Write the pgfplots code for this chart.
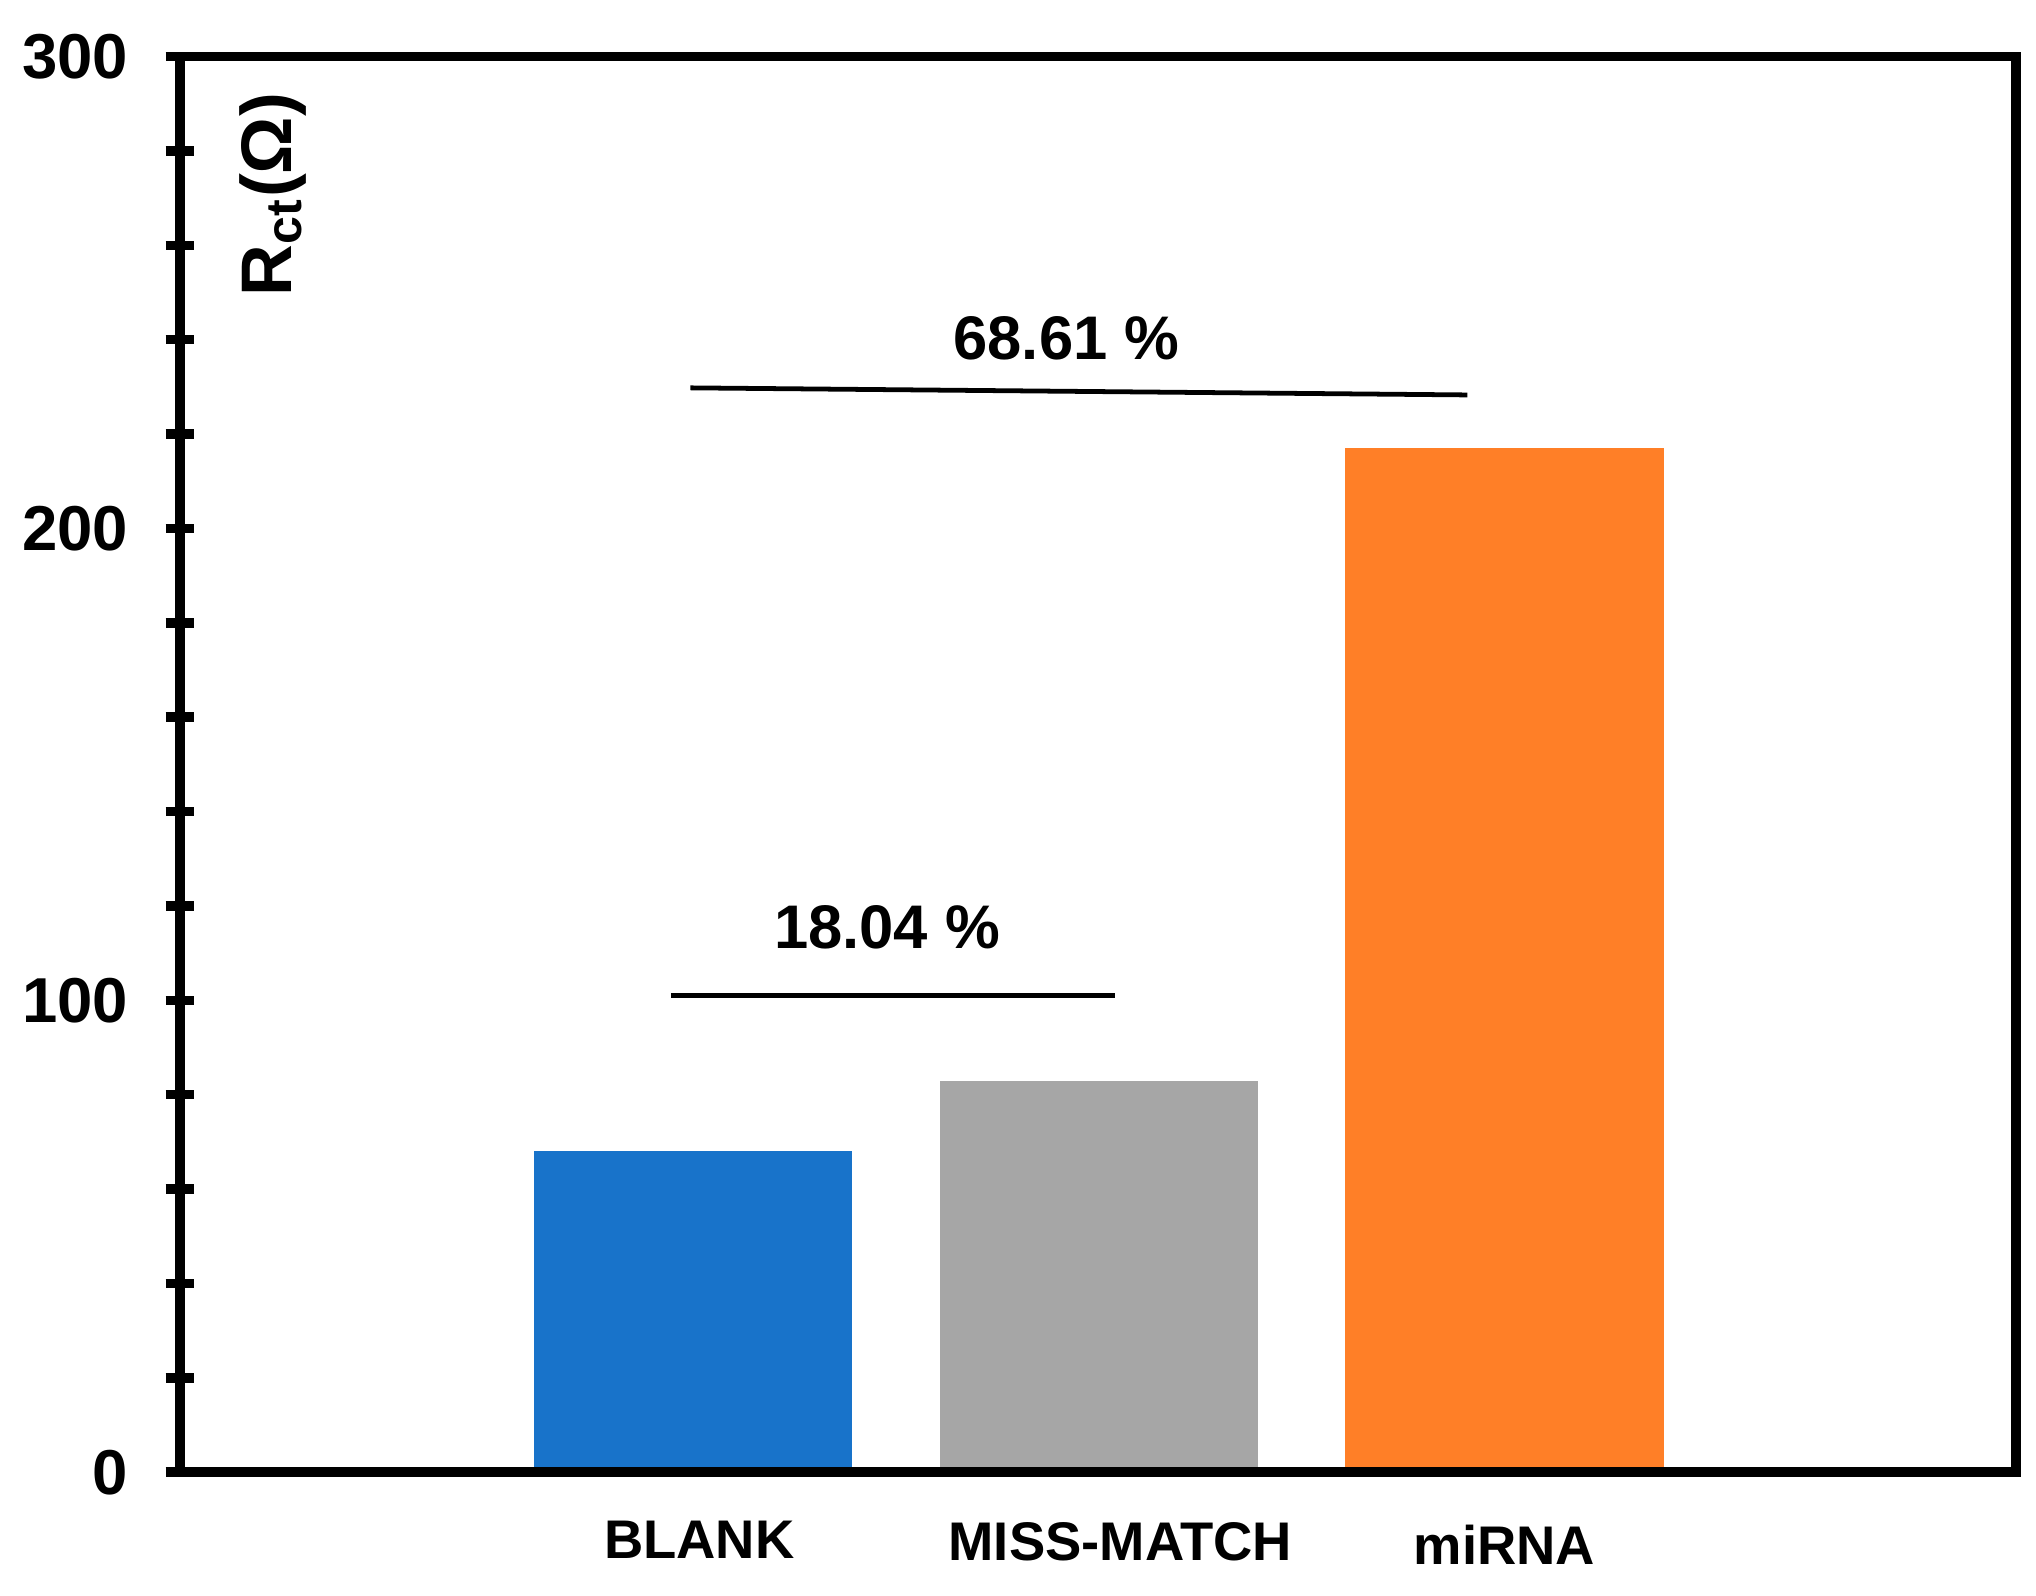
\documentclass[border=0pt]{standalone}
\usepackage{fontspec}
\setmainfont{Liberation Sans}
\usepackage{pgfplots}
\pgfplotsset{compat=1.18}
\definecolor{barblue}{RGB}{24,115,202}
\definecolor{bargrey}{RGB}{166,166,166}
\definecolor{barorange}{RGB}{255,127,39}

\begin{document}
\begin{tikzpicture}
\begin{axis}[
    scale only axis, width=13.52cm, height=10.425cm,
    xmin=-1.265, xmax=3.26, ymin=0, ymax=300,
    ybar, bar shift=0pt, bar width=0.785,
    xtick={0,1,2},
    xticklabels={{\hspace*{2.6pt}BLANK}, {\hspace*{9pt}\raisebox{-0.6pt}{MISS-MATCH}}, {\raisebox{-1.4pt}{miRNA}}},
    ytick={0,100,200,300}, minor y tick num=4,
    ytick pos=left, xtick style={draw=none},
    tick align=center, major tick length=6pt, minor tick length=6pt,
    tick style={black, line width=2pt},
    axis line style={line width=2pt},
    /pgf/number format/assume math mode=true,
    yticklabel style={font=\fontsize{13.3}{15}\selectfont\bfseries, anchor=east, xshift=-4.3pt},
    xticklabel style={font=\fontsize{11.4}{13}\selectfont\bfseries, anchor=base, yshift=-15pt},
    axis on top, clip=false,
]
\addplot[fill=barblue, draw=none] coordinates {(0,68.1)};
\addplot[fill=bargrey, draw=none] coordinates {(1,83.0)};
\addplot[fill=barorange, draw=none] coordinates {(2,217.0)};

% bracket lines for the percentage changes
\addplot[sharp plot, black, line width=1pt] coordinates {(-0.055,101.1) (1.039,101.1)};
\addplot[sharp plot, black, line width=1pt] coordinates {(-0.007,229.8) (1.908,228.3)};
\node[font=\fontsize{12.9}{14}\selectfont\bfseries] at (axis cs:0.478,115.5) {18.04 \%};
\node[font=\fontsize{12.9}{14}\selectfont\bfseries] at (axis cs:0.920,240.2) {68.61 \%};

\node[rotate=90, font=\fontsize{15}{17}\selectfont\bfseries] at (rel axis cs:0.0507,0.9025) {R\textsubscript{ct}(Ω)};

\coordinate (bl) at (rel axis cs:-0.098,-0.087);
\coordinate (tr) at (rel axis cs:1.011,1.040);
\end{axis}
\pgfresetboundingbox
\path[use as bounding box] (bl) rectangle (tr);
\end{tikzpicture}
\end{document}
